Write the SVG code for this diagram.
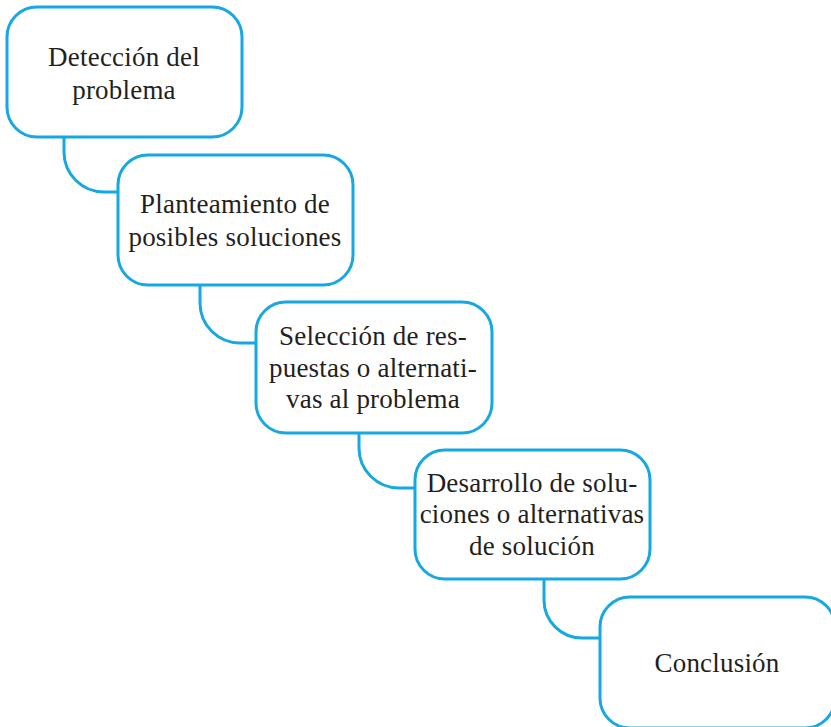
<svg xmlns="http://www.w3.org/2000/svg" width="831" height="727" viewBox="0 0 831 727">
<style>
.box{fill:#ffffff;stroke:#16a8e2;stroke-width:3}
.con{fill:none;stroke:#16a8e2;stroke-width:3}
.t{font-family:"Liberation Serif","Times New Roman",serif;font-size:27px;letter-spacing:0.2px;fill:#231f20;text-anchor:middle}
</style>
<rect width="831" height="727" fill="#ffffff"/>
<g id="connectors">
<path class="con" d="M64,137 V152 A40,40 0 0 0 104,192 H118"/>
<path class="con" d="M200,285 V303 A40,40 0 0 0 240,343 H256"/>
<path class="con" d="M359,433 V448 A40,40 0 0 0 399,488 H415"/>
<path class="con" d="M544,579 V600 A38,38 0 0 0 582,638 H600"/>
</g>
<g id="n1">
<rect class="box" x="7" y="7" width="235" height="130" rx="30"/>
<text class="t" x="124" y="66">Detección del</text>
<text class="t" x="124" y="99">problema</text>
</g>
<g id="n2">
<rect class="box" x="118" y="155" width="235" height="130" rx="30"/>
<text class="t" x="235" y="213">Planteamiento de</text>
<text class="t" x="235" y="246">posibles soluciones</text>
</g>
<g id="n3">
<rect class="box" x="256" y="302" width="236" height="131" rx="30"/>
<text class="t" x="373" y="345">Selección de res-</text>
<text class="t" x="373" y="377">puestas o alternati-</text>
<text class="t" x="373" y="408">vas al problema</text>
</g>
<g id="n4">
<rect class="box" x="415" y="450" width="235" height="129" rx="30"/>
<text class="t" x="532" y="492">Desarrollo de solu-</text>
<text class="t" x="532" y="523">ciones o alternativas</text>
<text class="t" x="532" y="555">de solución</text>
</g>
<g id="n5">
<rect class="box" x="600" y="597" width="235" height="131" rx="30"/>
<text class="t" x="717" y="672">Conclusión</text>
</g>
</svg>
